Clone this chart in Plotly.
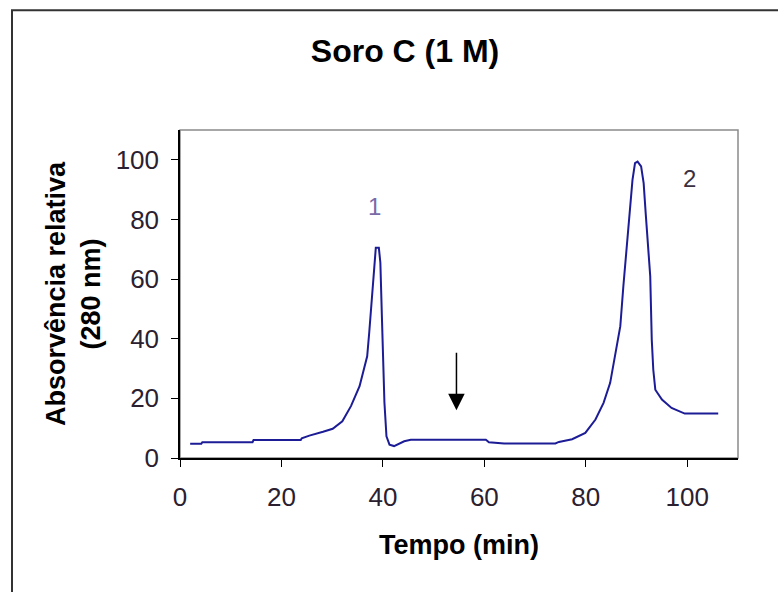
import plotly.graph_objects as go

# Chromatogram trace (Tempo in min, Absorvência relativa)
tempo = [2.0, 4.2, 4.4, 14.3, 14.5, 23.8, 24.0, 25.5, 28.2, 30.1, 32.0, 33.7, 35.4, 36.3,
         36.9, 37.3, 37.7, 37.9, 38.3, 38.6, 39.2, 39.5, 39.8, 40.3, 40.7, 41.3, 42.2,
         43.2, 44.2, 45.5, 60.3, 60.9, 63.9, 74.0, 74.7, 77.3, 79.9, 81.9, 83.5, 84.8,
         85.8, 86.8, 87.4, 88.1, 88.7, 89.2, 89.7, 90.2, 90.9, 91.4, 91.8, 92.2, 92.7,
         93.0, 93.3, 93.7, 95.0, 96.9, 99.5, 106.1]
absorb = [4.8, 4.8, 5.3, 5.3, 6.0, 6.0, 6.6, 7.5, 8.8, 9.8, 12.3, 17.4, 24.1, 29.6,
          34.1, 42.0, 50.9, 58.1, 65.5, 70.5, 70.5, 65.5, 47.5, 18.6, 7.3, 4.5, 4.0,
          4.9, 5.6, 6.1, 6.1, 5.3, 4.9, 4.9, 5.4, 6.3, 8.4, 12.9, 18.5, 25.2,
          34.1, 44.2, 57.6, 71.0, 84.4, 93.3, 98.9, 99.4, 97.8, 92.2, 82.1, 73.2, 60.9,
          39.7, 29.6, 22.9, 19.6, 16.8, 14.9, 14.9]

x_ticks = [0, 20, 40, 60, 80, 100]
y_ticks = [0, 20, 40, 60, 80, 100]

peak_labels = ["1", "2"]
peak_x = [38.3, 100.5]
peak_y = [84.3, 93.8]
peak_colors = ["#7a6aa8", "#3a3040"]

arrow_x = 54.5
arrow_top = 35.8
arrow_tip = 16.0

fig = go.Figure()
fig.add_trace(go.Scatter(x=tempo, y=absorb, mode="lines",
                         line=dict(color="#1c1c96", width=2), showlegend=False,
                         hoverinfo="skip"))

for t, px, py, c in zip(peak_labels, peak_x, peak_y, peak_colors):
    fig.add_annotation(x=px, y=py, text=t, showarrow=False,
                       font=dict(family="Liberation Sans Narrow, Arial Narrow, Liberation Sans", size=24, color=c))

fig.add_annotation(x=arrow_x, y=arrow_tip, ax=arrow_x, ay=arrow_top,
                   xref="x", yref="y", axref="x", ayref="y",
                   text="", showarrow=True, arrowhead=2, arrowsize=2.2,
                   arrowwidth=1.5, arrowcolor="#000000")

tick_font = dict(family="Liberation Sans, Arial", size=26, color="#2a2030")
title_font = dict(family="Liberation Sans, Arial", size=27, color="#000000")

fig.update_layout(
    width=778, height=592,
    margin=dict(l=180, r=40, t=130, b=133.5),
    paper_bgcolor="white", plot_bgcolor="white",
    title=dict(text="<b>Soro C (1 M)</b>", x=405/778, xanchor="center",
               y=1 - 51/592, yanchor="middle",
               font=dict(family="Liberation Sans, Arial", size=32, color="#000000")),
    xaxis=dict(range=[0, 110], tickvals=x_ticks, ticktext=[str(v) for v in x_ticks],
               showgrid=False, zeroline=False, showline=True, linecolor="#000000",
               linewidth=1.5, ticks="outside", ticklen=7, tickcolor="#000000",
               tickfont=tick_font, ticklabelstandoff=8,
               title=dict(text="<b>Tempo (min)</b>", font=title_font, standoff=24)),
    yaxis=dict(range=[0, 110], tickvals=y_ticks, ticktext=[str(v) for v in y_ticks],
               showgrid=False, zeroline=False, showline=True, linecolor="#000000",
               linewidth=1.5, ticks="outside", ticklen=7, tickcolor="#000000",
               tickfont=tick_font, ticklabelstandoff=7,
               title=dict(text="<b>Absorvência relativa<br>(280 nm)</b>", font=title_font,
                          standoff=7)),
)

# plot-area frame (grey top/right edges)
fig.add_shape(type="rect", xref="paper", yref="paper", x0=0, x1=1, y0=0, y1=1,
              line=dict(color="#8a8a8a", width=1.5), layer="below")
# outer chart border (extends beyond the visible window on the right and bottom)
fig.add_shape(type="rect", xref="paper", yref="paper",
              x0=(12 - 180) / 558, x1=(800 - 180) / 558,
              y0=(458.5 - 620) / 328.5, y1=(458.5 - 10) / 328.5,
              line=dict(color="#333333", width=2))

fig.write_html("out.html")
